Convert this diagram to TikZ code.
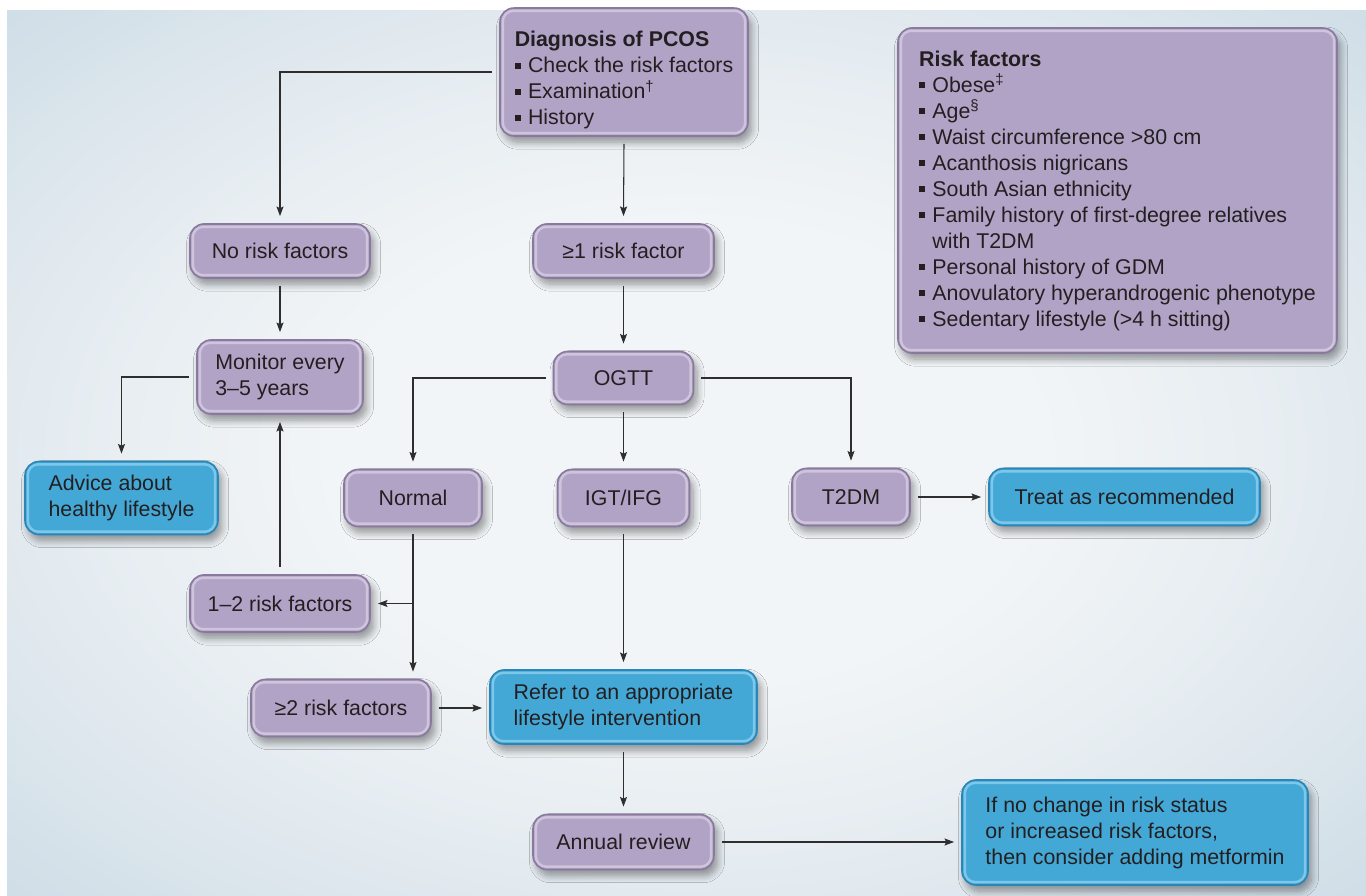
\documentclass[tikz,border=0pt]{standalone}
\usepackage{fontspec}
\setmainfont{Liberation Sans}
\usetikzlibrary{shadows,shadows.blur,arrows.meta,positioning,calc}

\definecolor{lilac}{HTML}{B1A3C6}
\definecolor{lilacedge}{HTML}{8A799F}
\definecolor{lilaclight}{HTML}{CEC4DC}
\definecolor{sky}{HTML}{44A8D6}
\definecolor{skyedge}{HTML}{2A86B6}
\definecolor{skylight}{HTML}{7DC7EA}
\definecolor{ink}{HTML}{231F20}
\definecolor{wire}{HTML}{2E2E2E}
\definecolor{bglight}{HTML}{F2F5F7}
\definecolor{bgmid}{HTML}{E4EBF0}
\definecolor{bgdark}{HTML}{D0DEE7}

\pgfdeclareradialshading{backdrop}{\pgfpoint{0bp}{0bp}}{color(0bp)=(bglight); color(13bp)=(bglight); color(24bp)=(bgmid); color(35bp)=(bgdark); color(50bp)=(bgdark)}

\newcommand{\bul}{\makebox[0.62em][l]{\rule[0.18em]{0.27em}{0.27em}}}

\begin{document}
\begin{tikzpicture}[x=0.02cm, y=-0.02cm, font=\fontsize{12.15pt}{14.8pt}\selectfont]

        \def\pxu{0.02cm}

        % Box and connector looks
        \tikzset{
            box/.style={rounded corners=8pt, line width=0.9pt, text=ink,
                inner sep=0pt, outer sep=4.5pt,
                blur shadow={shadow xshift=2pt, shadow yshift=-3.5pt,
                    shadow blur radius=4pt, shadow blur steps=10,
                    shadow opacity=40}},
            lilacbox/.style={box, fill=lilac, draw=lilacedge,
                path picture={\draw[lilaclight, line width=1.4pt, rounded corners=6pt]
                    ([shift={(1.6pt,1.6pt)}]path picture bounding box.south west)
                    rectangle ([shift={(-1.6pt,-1.6pt)}]path picture bounding box.north east);}},
            skybox/.style={box, fill=sky, draw=skyedge,
                path picture={\draw[skylight, line width=1.4pt, rounded corners=6pt]
                    ([shift={(1.6pt,1.6pt)}]path picture bounding box.south west)
                    rectangle ([shift={(-1.6pt,-1.6pt)}]path picture bounding box.north east);}},
            link/.style={draw=wire, line width=0.6pt,
                -{Stealth[length=5.5pt, width=4pt, inset=1pt]}}
        }

        \useasboundingbox (0,0) rectangle (1366,896);
        \fill[shading=backdrop] (7,10) rectangle (1366,896);

        % Boxes placed at their centres
        \begin{scope}
            \node[lilacbox, align=left, minimum width=248*\pxu,
                minimum height=128*\pxu] (diag) at (624,72)
            {\rule{0pt}{1.5em}\textbf{Diagnosis of PCOS}\\ \bul Check the risk factors\\
             \bul Examination\textsuperscript{†}\\ \bul History};
            \node[lilacbox, align=left, minimum width=439*\pxu,
                minimum height=325*\pxu] (risk) at (1117.5,190.5)
            {\textbf{Risk factors}\\ \bul Obese\textsuperscript{‡}\\
             \bul Age\textsuperscript{§}\\ \bul Waist circumference >80 cm\\
             \bul Acanthosis nigricans\\ \bul South Asian ethnicity\\
             \bul Family history of first-degree relatives\\
             \hphantom{\bul}with T2DM\\ \bul Personal history of GDM\\
             \bul Anovulatory hyperandrogenic phenotype\\
             \bul Sedentary lifestyle (>4 h sitting)};

            \node[lilacbox, minimum width=180*\pxu, minimum height=54*\pxu]
            (norisk) at (280,251) {No risk factors};
            \node[lilacbox, minimum width=181*\pxu, minimum height=54*\pxu]
            (one) at (623.5,251) {≥1 risk factor};
            \node[lilacbox, align=left, minimum width=166*\pxu,
                minimum height=74*\pxu] (monitor) at (280,377)
            {Monitor every\\ 3–5 years};
            \node[lilacbox, minimum width=140*\pxu, minimum height=53*\pxu]
            (ogtt) at (623.5,378) {OGTT};

            \node[skybox, align=left, minimum width=193*\pxu,
                minimum height=73*\pxu] (advice) at (121.5,498)
            {Advice about\\ healthy lifestyle};
            \node[lilacbox, minimum width=138*\pxu, minimum height=57*\pxu]
            (normal) at (413,498) {Normal};
            \node[lilacbox, minimum width=132*\pxu, minimum height=57*\pxu]
            (igt) at (623.5,498) {IGT/IFG};
            \node[lilacbox, minimum width=118*\pxu, minimum height=57*\pxu]
            (t2dm) at (851,497) {T2DM};
            \node[skybox, minimum width=271*\pxu, minimum height=57*\pxu]
            (treat) at (1124.5,497) {Treat as recommended};

            \node[lilacbox, minimum width=180*\pxu, minimum height=57*\pxu]
            (onetwo) at (280,603.5) {1–2 risk factors};
            \node[lilacbox, minimum width=180*\pxu, minimum height=57*\pxu]
            (twoplus) at (341,708) {≥2 risk factors};
            \node[skybox, align=left, minimum width=267*\pxu,
                minimum height=74*\pxu] (refer) at (623.5,707)
            {Refer to an appropriate\\ lifestyle intervention};
            \node[lilacbox, minimum width=181*\pxu, minimum height=55*\pxu]
            (annual) at (623.5,842) {Annual review};
            \node[skybox, align=left, minimum width=346*\pxu,
                minimum height=105*\pxu] (ifno) at (1135,832.5)
            {If no change in risk status\\ or increased risk factors,\\
             then consider adding metformin};
        \end{scope}

        % Connectors
        \begin{scope}[link]
            \foreach \a/\b in {diag/one, one/ogtt, ogtt/igt, igt/refer,
                refer/annual, norisk/monitor}
            \draw (\a.south) -- (\b.north);
            \foreach \a/\b in {diag/norisk, monitor/advice, ogtt/normal}
            \draw (\a.west) -| (\b.north);
            \draw (ogtt.east) -| (t2dm.north);
            \foreach \a/\b in {t2dm/treat, twoplus/refer, annual/ifno}
            \draw (\a.east) -- (\a.east -| \b.west);
            \draw (normal.south) -- (normal.south |- twoplus.north);
            \draw (normal.south |- onetwo.east) -- (onetwo.east);
            \draw (onetwo.north) -- (monitor.south);
        \end{scope}

\end{tikzpicture}
\end{document}
